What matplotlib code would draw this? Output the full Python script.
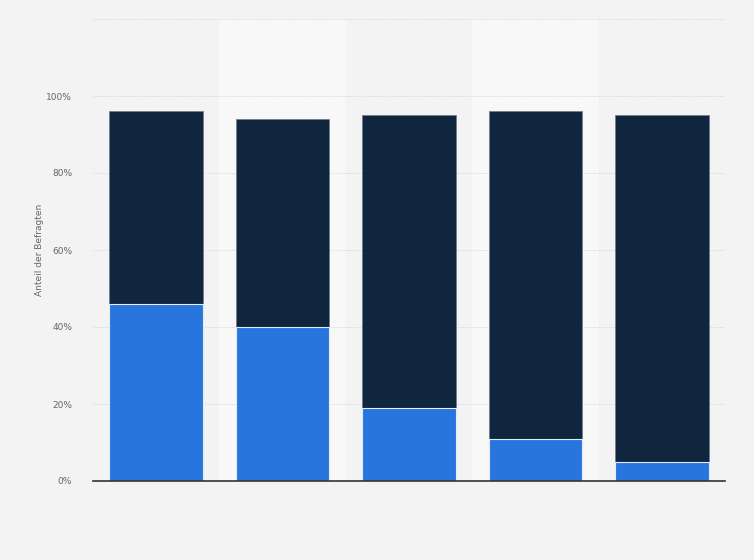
import matplotlib.pyplot as plt
import numpy as np

categories = ["1", "2", "3", "4", "5"]
share_blue = [46, 40, 19, 11, 5]
share_dark = [50, 54, 76, 85, 90]
y_ticks = [0, 20, 40, 60, 80, 100]
y_label = "Anteil der Befragten"

fig = plt.figure(figsize=(7.54, 5.6), dpi=100)
fig.patch.set_facecolor("#f3f3f3")
ax = fig.add_axes([93 / 754, 79 / 560, 632 / 754, 462 / 560])
ax.set_facecolor("#f3f3f3")

x = np.arange(len(categories))
width = 0.74

# lighter bands behind every second column
for i in x:
    if i % 2 == 1:
        ax.axvspan(i - 0.5, i + 0.5, color="#f8f8f8", zorder=0, lw=0)

ax.bar(x, share_dark, width, bottom=share_blue, color="#0f263e", edgecolor="#6b7a8a",
       linewidth=0.5, zorder=3)
ax.bar(x, share_blue, width, color="#2876dd", edgecolor="#e4ecf8", linewidth=0.8, zorder=4)

ax.set_xlim(-0.5, len(categories) - 0.5)
ax.set_ylim(0, 120)
ax.set_yticks(y_ticks)
ax.set_yticklabels([f"{t}%" for t in y_ticks], color="#666666", fontsize=6.5)
ax.set_xticks([])
for t in y_ticks[1:] + [120]:
    ax.axhline(t, color="#d2d2d2", lw=0.7, ls=(0, (1, 1.5)), zorder=1)

ax.tick_params(axis="y", length=0, pad=15)
for s in ["top", "right", "left"]:
    ax.spines[s].set_visible(False)
ax.spines["bottom"].set_color("#333333")
ax.spines["bottom"].set_linewidth(1.2)
ax.spines["bottom"].set_zorder(5)

ax.set_ylabel(y_label, color="#666666", fontsize=6.5)
ax.yaxis.set_label_coords(-0.084, 0.5)
ax.yaxis.label.set_verticalalignment("center")

fig.savefig("out.png", dpi=100, facecolor=fig.get_facecolor())
